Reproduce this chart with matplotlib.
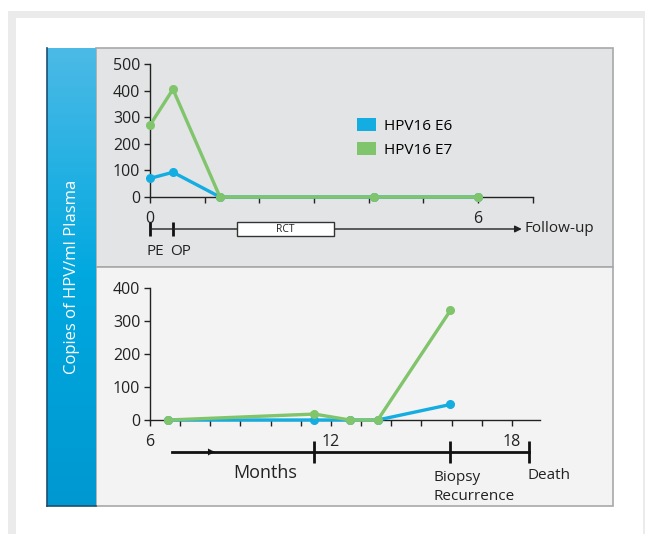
import matplotlib.pyplot as plt
import numpy as np
from matplotlib.patches import Rectangle, Patch
from matplotlib.colors import LinearSegmentedColormap

plt.rcParams['font.family'] = ['Open Sans', 'DejaVu Sans']

# --- Daten ---
# oben: Monate 0..6
top_months = [0, 0.42, 1.28, 4.1, 6.0]
top_e6 = [70, 93, 0, 0, 0]
top_e7 = [270, 405, 0, 0, 0]

# unten: Monate 6..18
bot_months = [6.6, 11.45, 12.63, 13.55, 15.96]
bot_e6 = [0, 0, 0, 0, 47]
bot_e7 = [0, 18, 0, 0, 332]

top_yticks = [0, 100, 200, 300, 400, 500]
bot_yticks = [0, 100, 200, 300, 400]

c_e6 = '#14ade2'
c_e7 = '#80c46c'

W, H = 645, 534
fig = plt.figure(figsize=(W / 100, H / 100), dpi=100)


def fx(px):
    return px / W


def fy(py):
    return 1 - py / H


def rect(x0, y0, x1, y1, **kw):
    # Pixel-Rechteck in Figure-Koordinaten, hinter den Achsen
    fig.patches.append(Rectangle((fx(x0), fy(y1)), fx(x1) - fx(x0), fy(y0) - fy(y1),
                                 transform=fig.transFigure, figure=fig,
                                 zorder=-5, **kw))


# Rahmen
rect(8, 11, 645, 534, facecolor='#ebebeb', edgecolor='none')
rect(16, 18, 643, 534, facecolor='white', edgecolor='none')
rect(96, 48, 613, 267, facecolor='#e3e4e5', edgecolor='#a8a8a8', linewidth=1.2)
rect(96, 267, 613, 506, facecolor='#f3f3f3', edgecolor='#a8a8a8', linewidth=1.2)

# blauer Balken mit Verlauf
bar_ax = fig.add_axes([fx(47), fy(506), fx(96) - fx(47), fy(48) - fy(506)])
cmap = LinearSegmentedColormap.from_list('bar', ['#4cbae6', '#00a8e0', '#0098d0'])
grad = np.linspace(0, 1, 256).reshape(-1, 1)
bar_ax.imshow(grad, aspect='auto', cmap=cmap, extent=[0, 1, 0, 1], origin='upper')
bar_ax.set_xticks([])
bar_ax.set_yticks([])
for side in ['top', 'right']:
    bar_ax.spines[side].set_visible(False)
for side in ['left', 'bottom']:
    bar_ax.spines[side].set_color('#1d4f70')
    bar_ax.spines[side].set_linewidth(1.2)
bar_ax.text(0.5, 0.5, 'Copies of HPV/ml Plasma', rotation=90, color='white',
            fontsize=12, ha='center', va='center', transform=bar_ax.transAxes)

line_kw = dict(linewidth=2.4, marker='o', markersize=5.5, clip_on=False, zorder=3)


def style_axis(ax):
    ax.patch.set_visible(False)
    for side in ['top', 'right']:
        ax.spines[side].set_visible(False)
    for side in ['left', 'bottom']:
        ax.spines[side].set_color('#222222')
        ax.spines[side].set_linewidth(1.0)
    ax.tick_params(direction='out', length=4, width=1, colors='#222222',
                   labelsize=11.5, pad=3)
    ax.tick_params(axis='x', pad=6)


# --- oberes Diagramm ---
ax1 = fig.add_axes([fx(150), fy(197), fx(532.7) - fx(150), fy(64) - fy(197)])
style_axis(ax1)
ax1.plot(top_months, top_e6, color=c_e6, **line_kw)
ax1.plot(top_months, top_e7, color=c_e7, **line_kw)
ax1.set_xlim(0, 7)
ax1.set_ylim(0, 500)
ax1.set_yticks(top_yticks)
ax1.set_xticks(range(8))
ax1.set_xticklabels(['0', '', '', '', '', '', '6', ''])

tr1 = ax1.get_xaxis_transform()
y_tl = -32 / 133
ax1.annotate('', xy=(6.8, y_tl), xytext=(0, y_tl), xycoords=tr1, textcoords=tr1,
             arrowprops=dict(arrowstyle='-|>', color='#222222', lw=1.0,
                             mutation_scale=10, shrinkA=0, shrinkB=0),
             annotation_clip=False)
ax1.text(6.85, y_tl, 'Follow-up', transform=tr1, fontsize=11, va='center',
         ha='left', color='#222222', clip_on=False)
for m in [0, 0.42]:
    ax1.plot([m, m], [y_tl - 0.05, y_tl + 0.05], transform=tr1, color='#111111',
             lw=2, clip_on=False, solid_capstyle='butt')
ax1.add_patch(Rectangle((1.59, y_tl - 0.055), 1.77, 0.11, transform=tr1,
                        facecolor='white', edgecolor='#333333', lw=1.0,
                        clip_on=False, zorder=4))
ax1.text(2.475, y_tl, 'RCT', transform=tr1, fontsize=7.5, ha='center',
         va='center', color='#222222', zorder=5, clip_on=False)
ax1.text(-0.06, -0.35, 'PE', transform=tr1, fontsize=11, ha='left', va='top',
         color='#222222')
ax1.text(0.37, -0.35, 'OP', transform=tr1, fontsize=11, ha='left', va='top',
         color='#222222')

handles = [Patch(facecolor=c_e6, edgecolor='none', label='HPV16 E6'),
           Patch(facecolor=c_e7, edgecolor='none', label='HPV16 E7')]
fig.legend(handles=handles, loc='upper left',
           bbox_to_anchor=(fx(357), fy(118)), frameon=False, fontsize=11,
           handlelength=1.25, handleheight=0.9, handletextpad=0.5,
           labelspacing=0.55, borderpad=0, borderaxespad=0)

# --- unteres Diagramm ---
ax2 = fig.add_axes([fx(150), fy(420), fx(540) - fx(150), fy(288) - fy(420)])
style_axis(ax2)
ax2.plot(bot_months, bot_e6, color=c_e6, **line_kw)
ax2.plot(bot_months, bot_e7, color=c_e7, **line_kw)
ax2.set_xlim(6, 18.93)
ax2.set_ylim(0, 400)
ax2.set_yticks(bot_yticks)
ax2.set_xticks(range(6, 19))
ax2.set_xticklabels(['6', '', '', '', '', '', '12', '', '', '', '', '', '18'])

tr2 = ax2.get_xaxis_transform()
y_tl2 = -32 / 132
ax2.plot([6.73, 18.57], [y_tl2, y_tl2], transform=tr2, color='#111111', lw=2,
         clip_on=False)
ax2.annotate('', xy=(8.15, y_tl2), xytext=(7.5, y_tl2), xycoords=tr2,
             textcoords=tr2,
             arrowprops=dict(arrowstyle='-|>', color='#111111', lw=0.1,
                             mutation_scale=12, shrinkA=0, shrinkB=0),
             annotation_clip=False)
for m in [11.45, 15.96, 18.57]:
    ax2.plot([m, m], [y_tl2 - 0.08, y_tl2 + 0.08], transform=tr2,
             color='#111111', lw=2, clip_on=False, solid_capstyle='butt')
ax2.text(9.81, -0.33, 'Months', transform=tr2, fontsize=13, ha='center',
         va='top', color='#222222')
ax2.text(15.4, -0.38, 'Biopsy\nRecurrence', transform=tr2, fontsize=11,
         ha='left', va='top', color='#222222', linespacing=1.35)
ax2.text(18.5, -0.36, 'Death', transform=tr2, fontsize=11, ha='left',
         va='top', color='#222222')

fig.savefig('out.png', dpi=100)
